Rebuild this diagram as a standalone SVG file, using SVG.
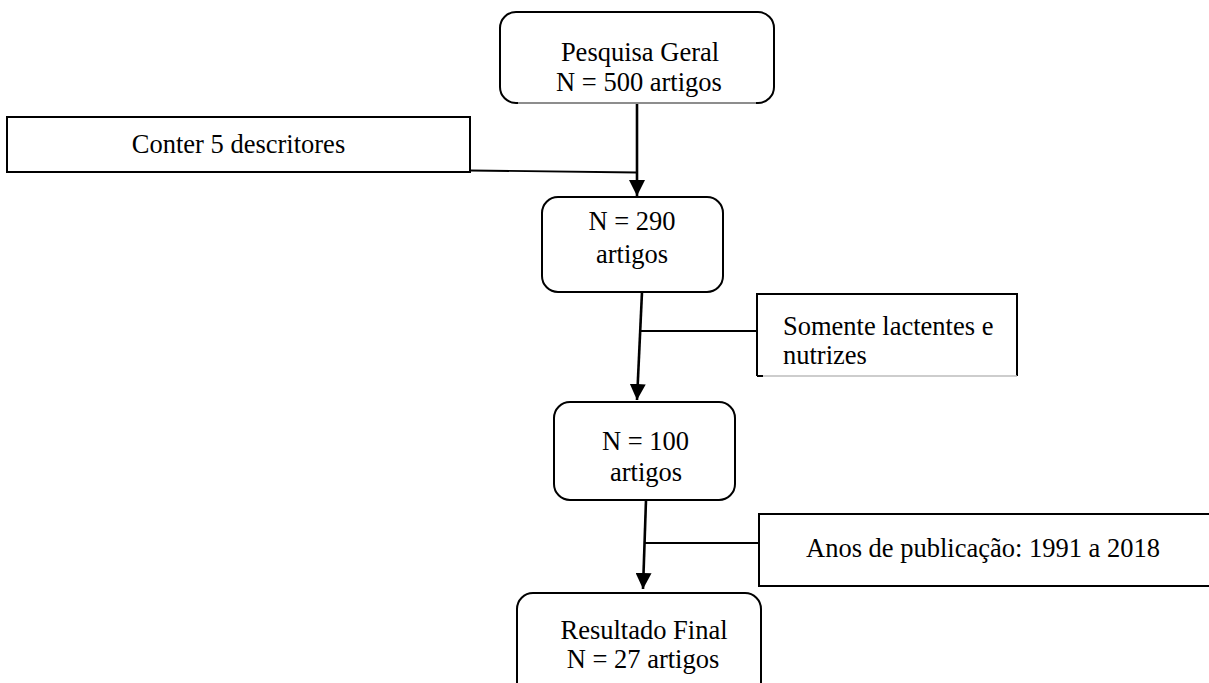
<svg xmlns="http://www.w3.org/2000/svg" width="1209" height="683" viewBox="0 0 1209 683">
  <style>
    .box { fill: #ffffff; stroke: #000000; stroke-width: 2; }
    .rbox { fill: #ffffff; stroke: #000000; stroke-width: 2; }
    .lbl { font-family: "Liberation Serif", "Times New Roman", serif; font-size: 26.5px; fill: #000000; }
    .mid { text-anchor: middle; }
    .arrow { fill: none; stroke: #000000; stroke-width: 2.6; }
    .branch { fill: none; stroke: #000000; stroke-width: 1.8; }
    .faint { fill: none; stroke: #bdbdbd; stroke-width: 1.5; }
  </style>
  <defs>
    <marker id="ah" markerUnits="userSpaceOnUse" markerWidth="16" markerHeight="16" viewBox="0 0 16 16" refX="16" refY="8" orient="auto">
      <path d="M0,0 L16,8 L0,16 Z" fill="#000000"/>
    </marker>
  </defs>
  <rect width="1209" height="683" fill="#ffffff"/>

  <g id="connectors">
    <line class="branch" x1="470" y1="170.5" x2="637" y2="172.5"/>
    <line class="arrow" x1="637" y1="104" x2="637" y2="196" marker-end="url(#ah)"/>
    <line class="branch" x1="641" y1="331" x2="757" y2="331"/>
    <line class="arrow" x1="642" y1="292" x2="637" y2="400" marker-end="url(#ah)"/>
    <line class="branch" x1="645" y1="543" x2="759" y2="543"/>
    <line class="arrow" x1="646" y1="500" x2="643" y2="589" marker-end="url(#ah)"/>
  </g>

  <g id="node-pesquisa">
    <rect class="rbox" x="500" y="12" width="274" height="91" rx="16" ry="16"/>
    <line class="faint" x1="518" y1="103" x2="756" y2="103"/>
    <text class="lbl mid" x="640" y="61">Pesquisa Geral</text>
    <text class="lbl mid" x="639" y="91">N = 500 artigos</text>
  </g>

  <g id="node-conter">
    <rect class="box" x="7" y="117" width="463" height="55"/>
    <text class="lbl mid" x="238.5" y="153">Conter 5 descritores</text>
  </g>

  <g id="node-290">
    <rect class="rbox" x="542" y="197" width="181" height="95" rx="16" ry="16"/>
    <text class="lbl mid" x="632" y="230">N = 290</text>
    <text class="lbl mid" x="632" y="263">artigos</text>
  </g>

  <g id="node-somente">
    <rect x="757" y="294" width="260" height="82" fill="#ffffff"/>
    <path d="M757,376 L757,294 L1017,294 L1017,376" fill="none" stroke="#000000" stroke-width="2"/>
    <line class="faint" x1="763" y1="376" x2="1017" y2="376"/>
    <line x1="757" y1="376" x2="763" y2="376" stroke="#000000" stroke-width="2"/>
    <text class="lbl" x="783" y="335">Somente lactentes e</text>
    <text class="lbl" x="783" y="364">nutrizes</text>
  </g>

  <g id="node-100">
    <rect class="rbox" x="554" y="402" width="181" height="98" rx="16" ry="16"/>
    <text class="lbl mid" x="645.5" y="450">N = 100</text>
    <text class="lbl mid" x="646" y="481">artigos</text>
  </g>

  <g id="node-anos">
    <rect class="box" x="759" y="514" width="460" height="72"/>
    <text class="lbl" x="806" y="557">Anos de publicação: 1991 a 2018</text>
  </g>

  <g id="node-resultado">
    <rect class="rbox" x="517" y="593" width="244" height="110" rx="16" ry="16"/>
    <text class="lbl mid" x="644" y="639">Resultado Final</text>
    <text class="lbl mid" x="643" y="668">N = 27 artigos</text>
  </g>
</svg>
